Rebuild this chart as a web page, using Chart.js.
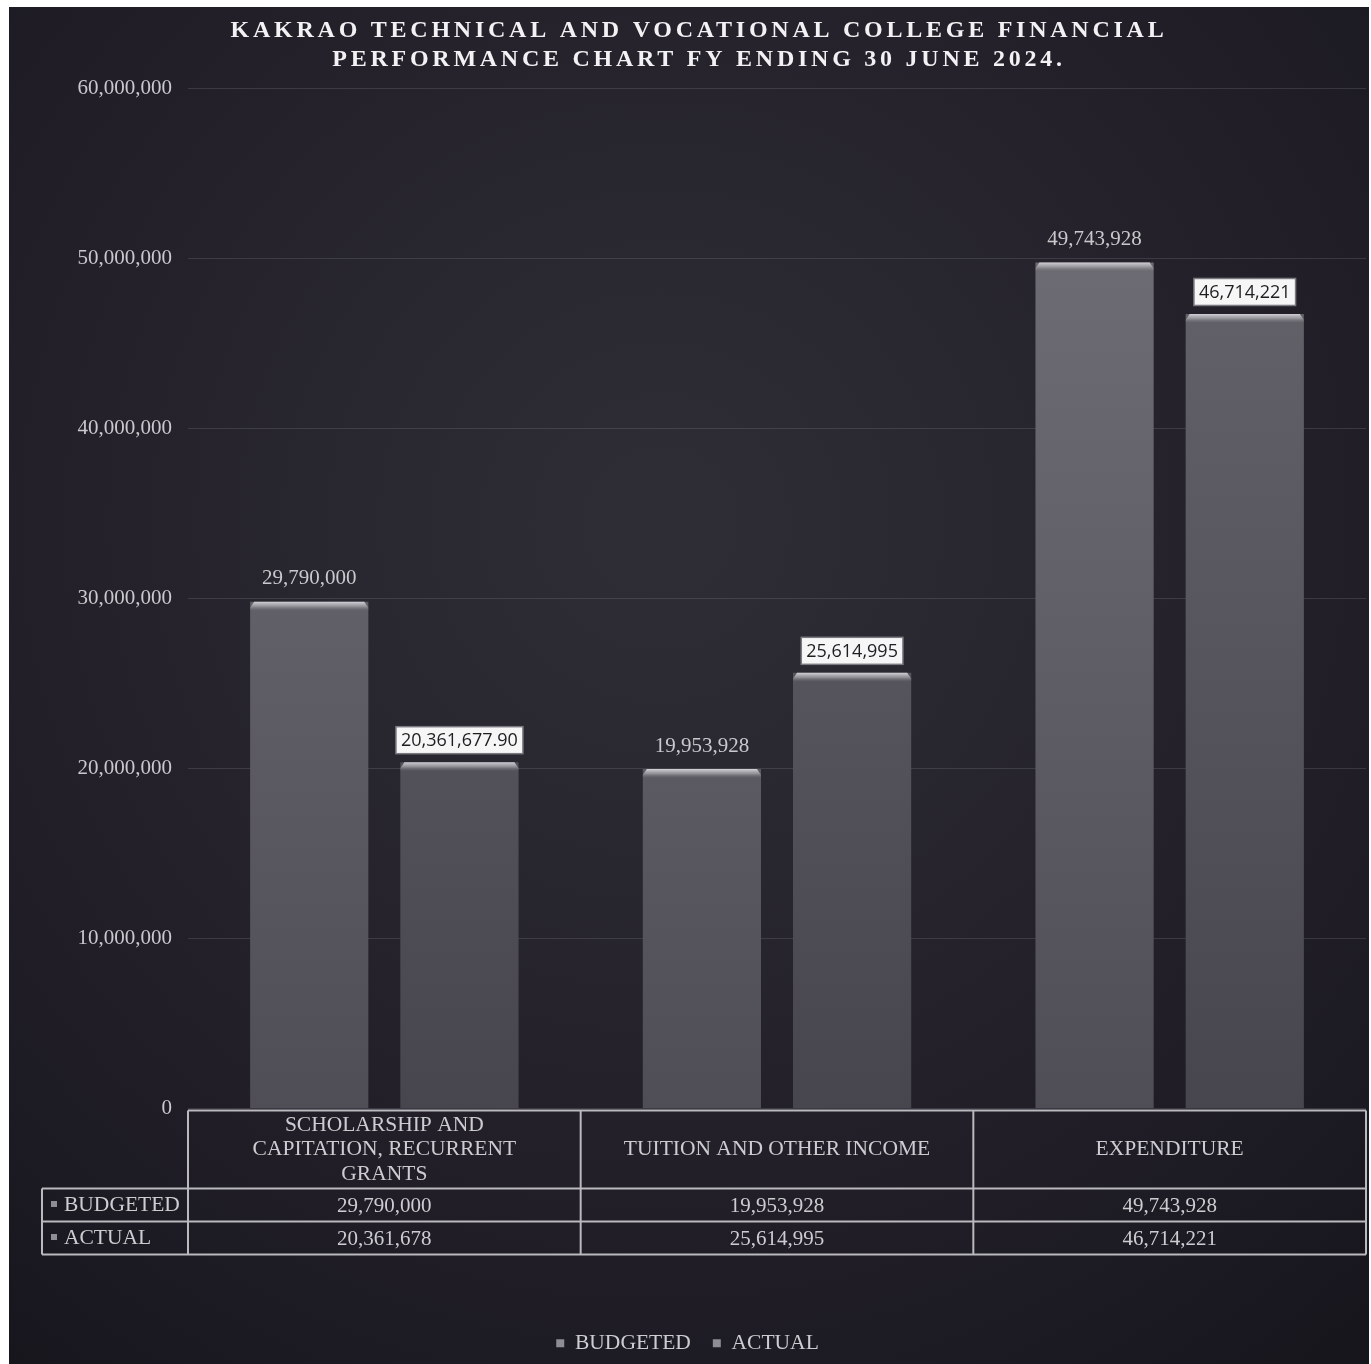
<!DOCTYPE html>
<html>
<head>
<meta charset="utf-8">
<script src="https://cdn.jsdelivr.net/npm/chart.js@4.4.1/dist/chart.umd.min.js"></script>
<style>
  html, body { margin: 0; padding: 0; background: #ffffff; }
  #wrap { position: absolute; left: 9px; top: 7px; width: 1360px; height: 1357px; }
</style>
</head>
<body>
<div id="wrap"><canvas id="c" width="1360" height="1357"></canvas></div>
<script>
// ---- Data ----
const titleLines = ['KAKRAO TECHNICAL AND VOCATIONAL COLLEGE FINANCIAL', 'PERFORMANCE CHART FY ENDING 30 JUNE 2024.'];
const categoryLines = [
  ['SCHOLARSHIP AND', 'CAPITATION, RECURRENT', 'GRANTS'],
  ['TUITION AND OTHER INCOME'],
  ['EXPENDITURE']
];
const categories = categoryLines.map(l => l.join(' '));
const seriesNames = ['BUDGETED', 'ACTUAL'];
const budgeted = [29790000, 19953928, 49743928];
const actual = [20361677.90, 25614995, 46714221];
const actualLabels = ['20,361,677.90', '25,614,995', '46,714,221'];
const yTicks = [0, 10000000, 20000000, 30000000, 40000000, 50000000, 60000000];

const SERIF = '"Liberation Serif", "DejaVu Serif", serif';
const SANS = '"Open Sans", "Liberation Sans", sans-serif';
const fmt = v => Math.round(v).toLocaleString('en-US');

function barGradient(top, bottom) {
  return function (ctx) {
    const chart = ctx.chart;
    const ca = chart.chartArea;
    if (!ca) return top;
    const g = chart.ctx.createLinearGradient(0, ca.top, 0, ca.bottom);
    g.addColorStop(0, top);
    g.addColorStop(1, bottom);
    return g;
  };
}

const bgPlugin = {
  id: 'bg',
  beforeDraw(chart) {
    const { ctx, width, height } = chart;
    ctx.save();
    const g = ctx.createRadialGradient(width * 0.48, height * 0.38, 40, width * 0.48, height * 0.38, width * 0.78);
    g.addColorStop(0, '#2e2d35');
    g.addColorStop(0.6, '#221f29');
    g.addColorStop(1, '#17161d');
    ctx.fillStyle = g;
    ctx.fillRect(0, 0, width, height);
    ctx.restore();
  }
};

const decoPlugin = {
  id: 'deco',
  afterDatasetsDraw(chart) {
    const ctx = chart.ctx;
    ctx.save();
    // bar top bevels
    chart.data.datasets.forEach((ds, di) => {
      const meta = chart.getDatasetMeta(di);
      meta.data.forEach(bar => {
        const w = bar.width;
        const x0 = bar.x - w / 2;
        const g = ctx.createLinearGradient(0, bar.y, 0, bar.y + 9);
        g.addColorStop(0, 'rgba(215,215,220,0.95)');
        g.addColorStop(0.5, 'rgba(170,170,176,0.7)');
        g.addColorStop(1, 'rgba(120,120,126,0)');
        ctx.fillStyle = g;
        ctx.beginPath();
        ctx.moveTo(x0 + 4, bar.y);
        ctx.lineTo(x0 + w - 4, bar.y);
        ctx.lineTo(x0 + w, bar.y + 6);
        ctx.lineTo(x0 + w, bar.y + 9);
        ctx.lineTo(x0, bar.y + 9);
        ctx.lineTo(x0, bar.y + 6);
        ctx.closePath();
        ctx.fill();
      });
    });
    // data labels
    const m0 = chart.getDatasetMeta(0);
    ctx.textAlign = 'center';
    ctx.textBaseline = 'middle';
    ctx.font = '21px ' + SERIF;
    ctx.fillStyle = '#c9c9cd';
    m0.data.forEach((bar, i) => {
      ctx.fillText(fmt(budgeted[i]), bar.x, bar.y - 23);
    });
    const m1 = chart.getDatasetMeta(1);
    ctx.font = '18px ' + SANS;
    m1.data.forEach((bar, i) => {
      const t = actualLabels[i];
      const tw = ctx.measureText(t).width;
      const bw = tw + 10, bh = 27;
      const cy = bar.y - 22;
      ctx.fillStyle = '#f6f6f6';
      ctx.fillRect(bar.x - bw / 2, cy - bh / 2, bw, bh);
      ctx.strokeStyle = '#7a7a80';
      ctx.lineWidth = 1.5;
      ctx.strokeRect(bar.x - bw / 2, cy - bh / 2, bw, bh);
      ctx.fillStyle = '#1e1e22';
      ctx.fillText(t, bar.x, cy + 1);
    });
    ctx.restore();
  },
  afterDraw(chart) {
    const ctx = chart.ctx;
    const ca = chart.chartArea;
    ctx.save();
    // title
    ctx.fillStyle = '#f2f2f4';
    ctx.font = 'bold 24px ' + SERIF;
    ctx.textAlign = 'center';
    ctx.textBaseline = 'middle';
    try { ctx.letterSpacing = '3.75px'; } catch (e) {}
    ctx.fillText(titleLines[0], 690, 24);
    ctx.fillText(titleLines[1], 690, 53);
    try { ctx.letterSpacing = '0px'; } catch (e) {}

    // data table
    const top = ca.bottom + 2;
    const hdrBottom = ca.bottom + 80;
    const row1 = hdrBottom + 33;
    const row2 = row1 + 33;
    const keyLeft = 33;
    const colW = (ca.right - ca.left) / categories.length;
    ctx.strokeStyle = '#b9b9be';
    ctx.lineWidth = 2;
    ctx.beginPath();
    ctx.moveTo(ca.left, top); ctx.lineTo(ca.right, top);
    ctx.moveTo(keyLeft, hdrBottom); ctx.lineTo(ca.right, hdrBottom);
    ctx.moveTo(keyLeft, row1); ctx.lineTo(ca.right, row1);
    ctx.moveTo(keyLeft, row2); ctx.lineTo(ca.right, row2);
    ctx.moveTo(keyLeft, hdrBottom); ctx.lineTo(keyLeft, row2);
    for (let i = 0; i <= categories.length; i++) {
      const x = ca.left + i * colW;
      ctx.moveTo(x, top); ctx.lineTo(x, row2);
    }
    ctx.stroke();

    ctx.fillStyle = '#cdcdd1';
    ctx.font = '21.5px ' + SERIF;
    ctx.textAlign = 'center';
    ctx.textBaseline = 'middle';
    const hdrMid = (top + hdrBottom) / 2;
    categoryLines.forEach((lines, i) => {
      const cx = chart.scales.x.getPixelForValue(i);
      const lh = 24.5;
      const y0 = hdrMid - (lines.length - 1) * lh / 2;
      lines.forEach((ln, k) => ctx.fillText(ln, cx, y0 + k * lh));
    });
    ctx.font = '21px ' + SERIF;
    [budgeted, actual].forEach((arr, r) => {
      const cy = (r === 0 ? (hdrBottom + row1) / 2 : (row1 + row2) / 2) + 1;
      arr.forEach((v, i) => {
        ctx.fillText(fmt(v), chart.scales.x.getPixelForValue(i), cy);
      });
    });
    // key column
    ctx.textAlign = 'left';
    ctx.font = '21.5px ' + SERIF;
    seriesNames.forEach((s, r) => {
      const cy = r === 0 ? (hdrBottom + row1) / 2 : (row1 + row2) / 2;
      ctx.fillStyle = '#8e8d93';
      ctx.fillRect(keyLeft + 9, cy - 4, 6, 6);
      ctx.fillStyle = '#cdcdd1';
      ctx.fillText(s, keyLeft + 22, cy);
    });
    ctx.restore();
  }
};

new Chart(document.getElementById('c'), {
  type: 'bar',
  data: {
    labels: categories,
    datasets: [
      {
        label: seriesNames[0],
        data: budgeted,
        backgroundColor: barGradient('#737178', '#4f4d56'),
        borderWidth: 0,
        categoryPercentage: 0.765,
        barPercentage: 0.787
      },
      {
        label: seriesNames[1],
        data: actual,
        backgroundColor: barGradient('#69676e', '#47454e'),
        borderWidth: 0,
        categoryPercentage: 0.765,
        barPercentage: 0.787
      }
    ]
  },
  options: {
    responsive: false,
    animation: false,
    layout: { padding: { top: 81, right: 3, left: 0, bottom: 0 } },
    plugins: {
      title: { display: false },
      tooltip: { enabled: false },
      legend: {
        position: 'bottom',
        labels: {
          boxWidth: 8,
          boxHeight: 8,
          padding: 22,
          color: '#cdcdd1',
          font: { family: SERIF, size: 21.5 },
          generateLabels(chart) {
            return chart.data.datasets.map((ds, i) => ({
              text: ds.label,
              fillStyle: '#8e8d93',
              strokeStyle: '#8e8d93',
              lineWidth: 0,
              hidden: false,
              datasetIndex: i,
              fontColor: '#cdcdd1'
            }));
          }
        }
      }
    },
    scales: {
      x: {
        grid: { display: false },
        border: { display: false },
        ticks: { display: false },
        afterFit(s) { s.height = 202; }
      },
      y: {
        min: 0,
        max: 60000000,
        afterBuildTicks(s) { s.ticks = yTicks.map(v => ({ value: v })); },
        ticks: {
          color: '#c9c9cd',
          font: { family: SERIF, size: 21 },
          padding: 16,
          callback: v => fmt(v)
        },
        grid: { color: 'rgba(150,150,160,0.22)', lineWidth: 1, drawTicks: false },
        border: { display: false },
        afterFit(s) { s.width = 179; }
      }
    }
  },
  plugins: [bgPlugin, decoPlugin]
});
</script>
</body>
</html>
